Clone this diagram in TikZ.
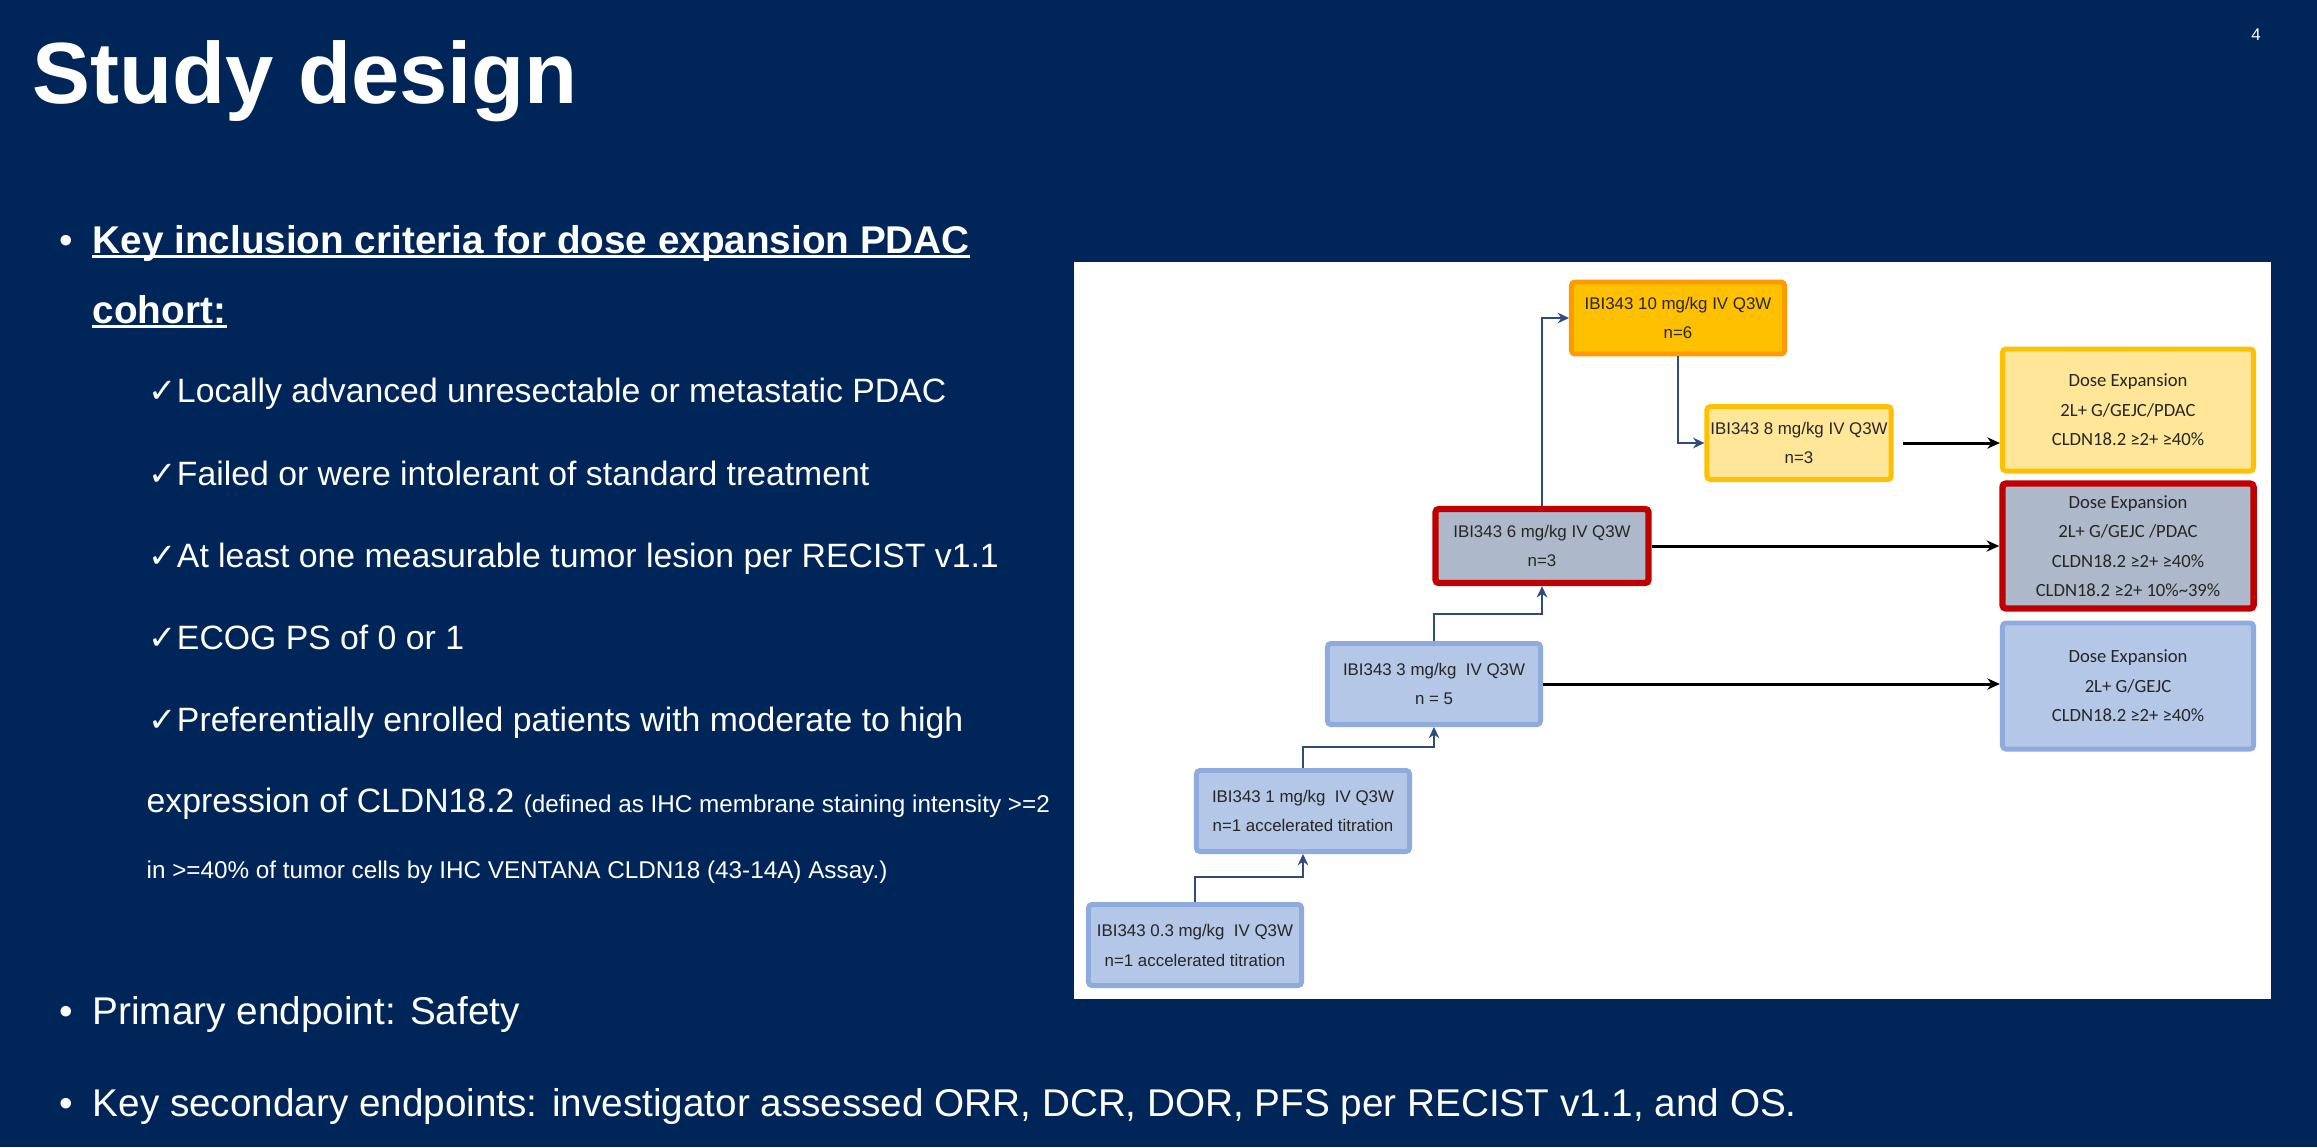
\documentclass[tikz,border=0pt]{standalone}
\usepackage{fontspec}
\usetikzlibrary{arrows.meta}
\setmainfont{Liberation Sans}
\newfontfamily\boxfont{Carlito}
\newfontfamily\symfont{DejaVu Sans}
\definecolor{slidebg}{RGB}{0,38,89}
\definecolor{lblue}{RGB}{180,199,231}
\definecolor{lblueline}{RGB}{143,170,220}
\definecolor{grayblue}{RGB}{173,185,202}
\definecolor{darkred}{RGB}{192,0,0}
\definecolor{gold}{RGB}{255,192,0}
\definecolor{orangeline}{RGB}{255,153,0}
\definecolor{lyellow}{RGB}{255,230,153}
\definecolor{navyline}{RGB}{47,74,125}
\newcommand\boxtext{\fontsize{4.8}{8.5}\selectfont}
\newcommand\exptext{\boxfont\fontsize{5.3}{8.4}\selectfont}
\newcommand\smalltext{\fontsize{6.9}{8}\selectfont}
\newcommand\chk{{\symfont ✓}}
\begin{document}
\begin{tikzpicture}[x=0.01cm,y=-0.01cm,>={Stealth[length=3.2pt,width=3pt]},
  txt/.style={anchor=base west,inner sep=0,text=white,font=\fontsize{11}{13}\selectfont},
  crit/.style={txt,font=\fontsize{9.6}{11}\selectfont},
  bul/.style={anchor=base,inner sep=0,text=white,font=\fontsize{11}{13}\selectfont},
  dose/.style={draw,rounded corners=1pt,align=center,font=\boxtext,text=black!85,inner xsep=1pt,
    minimum width=2.13cm,minimum height=0.81cm},
  bluebox/.style={dose,fill=lblue,draw=lblueline,line width=1.4pt},
  redbox/.style={dose,fill=grayblue,draw=darkred,line width=1.8pt},
  goldbox/.style={dose,fill=gold,draw=orangeline,line width=1.4pt},
  yellowbox/.style={dose,fill=lyellow,draw=gold,line width=1.4pt},
  expbox/.style={font=\exptext,minimum width=2.51cm,minimum height=1.22cm},
  step arrow/.style={->,draw=navyline,line width=0.6pt},
  out arrow/.style={-{Stealth[length=3.6pt,width=3.2pt]},draw=black,line width=0.85pt}]
\useasboundingbox (0,0) rectangle (2317,1147);
\fill[slidebg] (0,0) rectangle (2317,1147);

\node[anchor=base west,inner sep=0,text=white,font=\fontsize{24.7}{28}\selectfont\bfseries] (title) at (32,103) {Study design};
\node[anchor=base,inner sep=0,text=white,font=\fontsize{4.8}{6}\selectfont] (page) at (2256,40) {4};

\node[bul] (dot1) at (66,253) {•};
\node[txt,font=\fontsize{11}{13}\selectfont\bfseries] (head1) at (92,253) {Key inclusion criteria for dose expansion PDAC};
\node[txt,font=\fontsize{11}{13}\selectfont\bfseries] (head2) at (92,323) {cohort:};
\draw[white,line width=0.85pt] ([yshift=-1.1pt]head1.base west) -- ([yshift=-1.1pt]head1.base east);
\draw[white,line width=0.85pt] ([yshift=-1.1pt]head2.base west) -- ([yshift=-1.1pt]head2.base east);

\node[crit] (c1) at (148,402) {\chk Locally advanced unresectable or metastatic PDAC};
\node[crit] (c2) at (148,485) {\chk Failed or were intolerant of standard treatment};
\node[crit] (c3) at (148,567) {\chk At least one measurable tumor lesion per RECIST v1.1};
\node[crit] (c4) at (148,649) {\chk ECOG PS of 0 or 1};
\node[crit] (c5) at (148,731) {\chk Preferentially enrolled patients with moderate to high};
\node[crit] (c6) at (146,812) {expression of CLDN18.2 {\smalltext(defined as IHC membrane staining intensity >=2}};
\node[crit,font=\smalltext] (c7) at (146,878) {in >=40\% of tumor cells by IHC VENTANA CLDN18 (43-14A) Assay.)};

\node[bul] (dot2) at (66,1024) {•};
\node[txt] (prim) at (92,1024) {Primary endpoint: Safety};
\node[bul] (dot3) at (66,1116) {•};
\node[txt] (sec) at (92,1116) {Key secondary endpoints: investigator assessed ORR, DCR, DOR, PFS per RECIST v1.1, and OS.};

\fill[white] (1074,262) rectangle (2271,999);

\node[bluebox] (b03) at (1195,945) {IBI343 0.3 mg/kg~ IV Q3W\\n=1 accelerated titration};
\node[bluebox] (b1) at (1303,811) {IBI343 1 mg/kg~ IV Q3W\\n=1 accelerated titration};
\node[bluebox] (b3) at (1434,684) {IBI343 3 mg/kg~ IV Q3W\\n = 5};
\node[redbox,minimum height=0.74cm] (b6) at (1542,546) {IBI343 6 mg/kg IV Q3W\\n=3};
\node[goldbox,minimum height=0.72cm] (b10) at (1678,318) {IBI343 10 mg/kg IV Q3W\\n=6};
\node[yellowbox,minimum width=1.83cm,minimum height=0.73cm] (b8) at (1799,443) {IBI343 8 mg/kg IV Q3W\\n=3};

\node[yellowbox,expbox] (de1) at (2128,410) {Dose Expansion\\2L+ G/GEJC/PDAC\\CLDN18.2 ≥2+ ≥40\%};
\node[redbox,expbox] (de2) at (2128,546) {Dose Expansion\\2L+ G/GEJC /PDAC\\CLDN18.2 ≥2+ ≥40\%\\CLDN18.2 ≥2+ 10\%\textasciitilde 39\%};
\node[bluebox,expbox,minimum height=1.26cm] (de3) at (2128,686) {Dose Expansion\\2L+ G/GEJC\\CLDN18.2 ≥2+ ≥40\%};

\draw[step arrow] (b03.north) -- ++(0,-25) -| (b1.south);
\draw[step arrow] (b1.north) -- ++(0,-21) -| (b3.south);
\draw[step arrow] (b3.north) -- ++(0,-27) -| (b6.south);
\draw[step arrow] (b6.north) |- (b10.west);
\draw[step arrow] (b10.south) |- (b8.west);

\draw[out arrow,shorten <=0.09cm] (b8.east) -- (b8.east -| de1.west);
\draw[out arrow] (b6.east) -- (b6.east -| de2.west);
\draw[out arrow] (b3.east) -- (b3.east -| de3.west);
\end{tikzpicture}
\end{document}
